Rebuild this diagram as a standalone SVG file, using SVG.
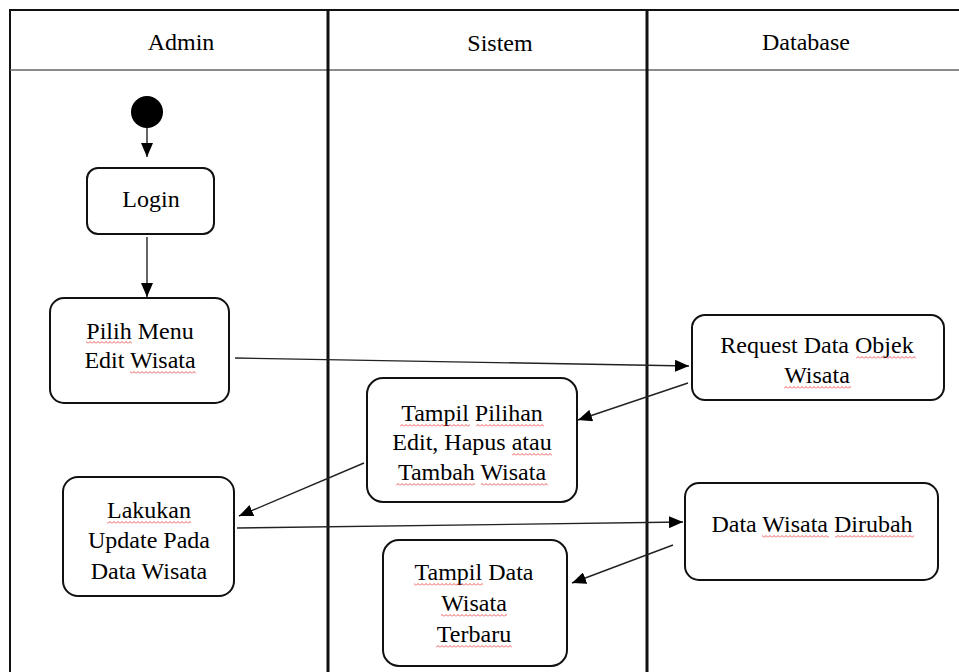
<svg xmlns="http://www.w3.org/2000/svg" width="959" height="672" viewBox="0 0 959 672">
<defs>
<style>
.txt{font-family:'Liberation Serif','Times New Roman',serif;font-size:24px;fill:#000;text-anchor:middle}
.box{fill:#fff;stroke:#111;stroke-width:2}
.lane{stroke:#111;stroke-width:3;fill:none}
.border{stroke:#111;stroke-width:2;fill:none}
.hdr{stroke:#666;stroke-width:1.5;fill:none}
.conn{stroke:#222;stroke-width:1.4;fill:none;marker-end:url(#ah)}
.sq{fill:url(#sq)}
</style>
<marker id="ah" viewBox="0 0 14 12" refX="14" refY="6" markerWidth="14" markerHeight="12" orient="auto" markerUnits="userSpaceOnUse">
<path d="M0,0 L14,6 L0,12 z" fill="#000"/>
</marker>
<pattern id="sq" width="4" height="3" patternUnits="userSpaceOnUse">
<path d="M0,2.5 L2,0.5 L4,2.5" stroke="#e53030" stroke-width="0.8" fill="none"/>
</pattern>
</defs>
<rect width="959" height="672" fill="#fff"/>

<g id="swimlanes">
<line class="border" x1="10" y1="10" x2="959" y2="10"/>
<line class="border" x1="10" y1="9" x2="10" y2="672"/>
<line class="hdr" x1="10" y1="70" x2="959" y2="70"/>
<line class="lane" x1="328" y1="9" x2="328" y2="672"/>
<line class="lane" x1="647" y1="9" x2="647" y2="672"/>
<text class="txt" x="181" y="50">Admin</text>
<text class="txt" x="500" y="51">Sistem</text>
<text class="txt" x="806" y="50">Database</text>
</g>

<g id="connectors">
<line class="conn" x1="147" y1="126" x2="147" y2="157"/>
<line class="conn" x1="147" y1="237" x2="147" y2="297"/>
<line class="conn" x1="235" y1="358" x2="689" y2="366"/>
<line class="conn" x1="688" y1="383" x2="578" y2="420"/>
<line class="conn" x1="364" y1="463" x2="239" y2="516"/>
<line class="conn" x1="237" y1="528" x2="683" y2="522"/>
<line class="conn" x1="673" y1="545" x2="572" y2="583"/>
</g>

<g id="start">
<circle cx="147" cy="112" r="16" fill="#000"/>
</g>

<g id="login">
<rect class="box" x="87" y="168" width="127" height="66" rx="11"/>
<text class="txt" x="151" y="207">Login</text>
</g>

<g id="pilih-menu">
<rect class="box" x="50" y="298" width="179" height="105" rx="14"/>
<text class="txt" x="140" y="339">Pilih Menu</text>
<text class="txt" x="140" y="368">Edit Wisata</text>
<rect class="sq" x="86" y="0" width="46" height="3" transform="translate(0,341)"/>
<rect class="sq" x="130" y="0" width="66" height="3" transform="translate(0,371)"/>
</g>

<g id="request-data">
<rect class="box" x="692" y="315" width="252" height="85" rx="13"/>
<text class="txt" x="817" y="353">Request Data Objek</text>
<text class="txt" x="817" y="383">Wisata</text>
<rect class="sq" x="856" y="0" width="60" height="3" transform="translate(0,356)"/>
<rect class="sq" x="784" y="0" width="67" height="3" transform="translate(0,386)"/>
</g>

<g id="tampil-pilihan">
<rect class="box" x="367" y="378" width="210" height="124" rx="16"/>
<text class="txt" x="472" y="421">Tampil Pilihan</text>
<text class="txt" x="472" y="450">Edit, Hapus atau</text>
<text class="txt" x="472" y="480">Tambah Wisata</text>
<rect class="sq" x="400" y="0" width="70" height="3" transform="translate(0,424)"/>
<rect class="sq" x="476" y="0" width="68" height="3" transform="translate(0,424)"/>
<rect class="sq" x="512" y="0" width="40" height="3" transform="translate(0,453)"/>
<rect class="sq" x="396" y="0" width="79" height="3" transform="translate(0,483)"/>
<rect class="sq" x="481" y="0" width="67" height="3" transform="translate(0,483)"/>
</g>

<g id="lakukan-update">
<rect class="box" x="63" y="477" width="171" height="119" rx="15"/>
<text class="txt" x="149" y="518">Lakukan</text>
<text class="txt" x="149" y="548">Update Pada</text>
<text class="txt" x="149" y="579">Data Wisata</text>
<rect class="sq" x="107" y="0" width="84" height="3" transform="translate(0,521)"/>
</g>

<g id="data-dirubah">
<rect class="box" x="685" y="483" width="253" height="97" rx="14"/>
<text class="txt" x="812" y="532">Data Wisata Dirubah</text>
<rect class="sq" x="762" y="0" width="67" height="3" transform="translate(0,535)"/>
<rect class="sq" x="835" y="0" width="79" height="3" transform="translate(0,535)"/>
</g>

<g id="tampil-data">
<rect class="box" x="383" y="540" width="184" height="126" rx="16"/>
<text class="txt" x="474" y="580">Tampil Data</text>
<text class="txt" x="474" y="611">Wisata</text>
<text class="txt" x="474" y="642">Terbaru</text>
<rect class="sq" x="414" y="0" width="69" height="3" transform="translate(0,583)"/>
<rect class="sq" x="441" y="0" width="66" height="3" transform="translate(0,614)"/>
<rect class="sq" x="436" y="0" width="76" height="3" transform="translate(0,645)"/>
</g>
</svg>
